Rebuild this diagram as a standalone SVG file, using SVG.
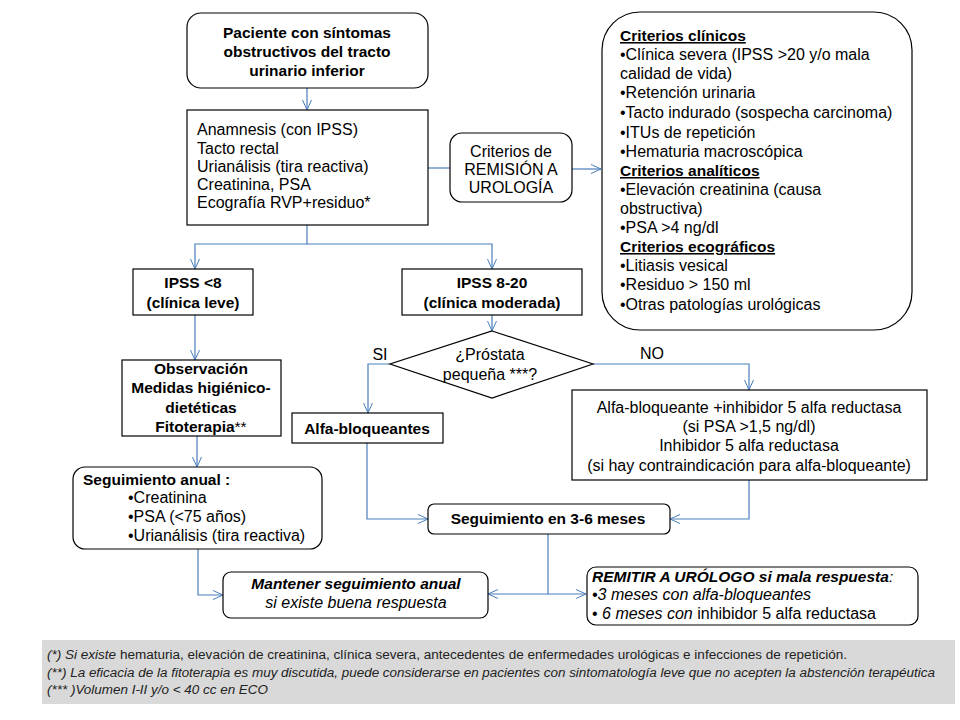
<svg xmlns="http://www.w3.org/2000/svg" width="960" height="720" viewBox="0 0 960 720">
<style>
.t{font-family:"Liberation Sans",Arial,sans-serif;font-size:16px;fill:#000}
.b{font-weight:bold;font-size:15.5px}
.i{font-style:italic}
.c{text-anchor:middle}
.box{fill:#fff;stroke:#000;stroke-width:1.2}
.con{fill:none;stroke:#4a7ebb;stroke-width:1.2}
.fn{font-family:"Liberation Sans",Arial,sans-serif;font-size:12px;fill:#222}
</style>
<defs>
<marker id="arr" viewBox="0 0 10 10" refX="10" refY="5" markerWidth="10" markerHeight="10" markerUnits="userSpaceOnUse" orient="auto">
<polyline points="0,0.5 10,5 0,9.5" fill="none" stroke="#4a7ebb" stroke-width="1"/>
</marker>
</defs>
<rect width="960" height="720" fill="#fff"/>

<g id="connectors">
<path class="con" d="M307,88 V110" marker-end="url(#arr)"/>
<path class="con" d="M428,168 H450"/>
<path class="con" d="M572,169 H601" marker-end="url(#arr)"/>
<path class="con" d="M307,225 V244 H195 V269" marker-end="url(#arr)"/>
<path class="con" d="M307,244 H492 V269" marker-end="url(#arr)"/>
<path class="con" d="M492,315 V331" marker-end="url(#arr)"/>
<path class="con" d="M195,315 V360" marker-end="url(#arr)"/>
<path class="con" d="M390,364 H368 V413" marker-end="url(#arr)"/>
<path class="con" d="M593,364 H749 V390" marker-end="url(#arr)"/>
<path class="con" d="M197,436 V467" marker-end="url(#arr)"/>
<path class="con" d="M367,443 V519 H428" marker-end="url(#arr)"/>
<path class="con" d="M749,480 V519 H670" marker-end="url(#arr)"/>
<path class="con" d="M198,549 V595 H223" marker-end="url(#arr)"/>
<path class="con" d="M548,534 V594 H488" marker-end="url(#arr)"/>
<path class="con" d="M548,594 H586" marker-end="url(#arr)"/>
</g>

<g id="paciente">
<rect class="box" x="187" y="13" width="241" height="75" rx="14"/>
<text class="t b c" x="307" y="38">Paciente  con síntomas</text>
<text class="t b c" x="307" y="57">obstructivos del tracto</text>
<text class="t b c" x="307" y="76">urinario inferior</text>
</g>

<g id="anamnesis">
<rect class="box" x="187" y="110" width="241" height="115"/>
<text class="t" x="197" y="135">Anamnesis (con IPSS)</text>
<text class="t" x="197" y="154">Tacto rectal</text>
<text class="t" x="197" y="172">Urianálisis (tira reactiva)</text>
<text class="t" x="197" y="190">Creatinina, PSA</text>
<text class="t" x="197" y="208">Ecografía RVP+residuo*</text>
</g>

<g id="remision">
<rect class="box" x="450" y="133" width="122" height="69" rx="12"/>
<text class="t c" x="511" y="157">Criterios de</text>
<text class="t c" x="511" y="175">REMISIÓN  A</text>
<text class="t c" x="511" y="193">UROLOGÍA</text>
</g>

<g id="criterios">
<rect class="box" x="602" y="12" width="310" height="318" rx="38"/>
<text class="t b" x="620" y="41" text-decoration="underline">Criterios clínicos</text>
<text class="t" x="620" y="60">•Clínica severa  (IPSS &gt;20 y/o mala</text>
<text class="t" x="620" y="79">calidad de vida)</text>
<text class="t" x="620" y="98">•Retención urinaria</text>
<text class="t" x="620" y="118">•Tacto indurado (sospecha carcinoma)</text>
<text class="t" x="620" y="138">•ITUs de repetición</text>
<text class="t" x="620" y="157">•Hematuria macroscópica</text>
<text class="t b" x="620" y="176" text-decoration="underline">Criterios analíticos</text>
<text class="t" x="620" y="195">•Elevación creatinina (causa</text>
<text class="t" x="620" y="214">obstructiva)</text>
<text class="t" x="620" y="233">•PSA &gt;4 ng/dl</text>
<text class="t b" x="620" y="252" text-decoration="underline">Criterios ecográficos</text>
<text class="t" x="620" y="271">•Litiasis vesical</text>
<text class="t" x="620" y="290">•Residuo &gt; 150 ml</text>
<text class="t" x="620" y="310">•Otras patologías urológicas</text>
</g>

<g id="ipss-leve">
<rect class="box" x="133" y="269" width="120" height="46"/>
<text class="t b c" x="193" y="288">IPSS &lt;8</text>
<text class="t b c" x="193" y="308">(clínica leve)</text>
</g>

<g id="ipss-moderada">
<rect class="box" x="402" y="269" width="180" height="46"/>
<text class="t b c" x="492" y="288">IPSS 8-20</text>
<text class="t b c" x="492" y="308">(clínica moderada)</text>
</g>

<g id="prostata">
<polygon class="box" points="492,331 593,364 492,398 390,364"/>
<text class="t c" x="490" y="360">¿Próstata</text>
<text class="t c" x="490" y="380">pequeña ***?</text>
</g>

<g id="labels">
<text class="t c" x="380" y="360">SI</text>
<text class="t c" x="652" y="359">NO</text>
</g>

<g id="observacion">
<rect class="box" x="122" y="360" width="159" height="76"/>
<text class="t b c" x="201" y="374">Observación</text>
<text class="t b c" x="201" y="393">Medidas higiénico-</text>
<text class="t b c" x="201" y="413">dietéticas</text>
<text class="t b c" x="201" y="432">Fitoterapia<tspan font-weight="normal">**</tspan></text>
</g>

<g id="alfa">
<rect class="box" x="292" y="413" width="151" height="30"/>
<text class="t b c" x="367" y="434">Alfa-bloqueantes</text>
</g>

<g id="alfa-inhibidor">
<rect class="box" x="572" y="390" width="355" height="90"/>
<text class="t c" x="749" y="413">Alfa-bloqueante +inhibidor 5 alfa reductasa</text>
<text class="t c" x="749" y="432">(si PSA &gt;1,5 ng/dl)</text>
<text class="t c" x="749" y="451">Inhibidor 5 alfa reductasa</text>
<text class="t c" x="749" y="471">(si hay contraindicación para alfa-bloqueante)</text>
</g>

<g id="seguimiento-anual">
<rect class="box" x="73" y="467" width="249" height="82" rx="12"/>
<text class="t b" x="83" y="485">Seguimiento anual :</text>
<text class="t" x="128" y="503">•Creatinina</text>
<text class="t" x="128" y="522">•PSA (&lt;75 años)</text>
<text class="t" x="128" y="541">•Urianálisis (tira reactiva)</text>
</g>

<g id="seguimiento-3-6">
<rect class="box" x="428" y="504" width="242" height="30" rx="6"/>
<text class="t b c" x="548" y="524">Seguimiento en 3-6 meses</text>
</g>

<g id="mantener">
<rect class="box" x="223" y="572" width="265" height="46" rx="8"/>
<text class="t b i c" x="356" y="589">Mantener seguimiento anual</text>
<text class="t i c" x="356" y="608">si existe buena respuesta</text>
</g>

<g id="remitir">
<rect class="box" x="587" y="567" width="331" height="58" rx="9"/>
<text class="t b i" x="592" y="582">REMITIR A URÓLOGO si mala respuesta<tspan font-weight="normal">:</tspan></text>
<text class="t i" x="592" y="600">•3 meses con alfa-bloqueantes</text>
<text class="t" x="592" y="619">• <tspan font-style="italic">6 meses con</tspan> inhibidor 5 alfa reductasa</text>
</g>

<g id="notas">
<rect x="42" y="640" width="913" height="64" fill="#d9d9d9"/>
<text class="fn" x="47" y="659" textLength="800" lengthAdjust="spacingAndGlyphs"><tspan font-style="italic">(*) Si existe</tspan> hematuria,  elevación de creatinina,  clínica severa, antecedentes de enfermedades urológicas e infecciones de repetición.</text>
<text class="fn i" x="47" y="677" textLength="888" lengthAdjust="spacingAndGlyphs" font-style="italic">(**) La eficacia de la fitoterapia es muy discutida, puede  considerarse en pacientes con sintomatología leve que no acepten la abstención terapéutica</text>
<text class="fn" x="47" y="694" textLength="221" lengthAdjust="spacingAndGlyphs" font-style="italic">(*** )Volumen I-II y/o &lt; 40 cc en ECO</text>
</g>
</svg>
